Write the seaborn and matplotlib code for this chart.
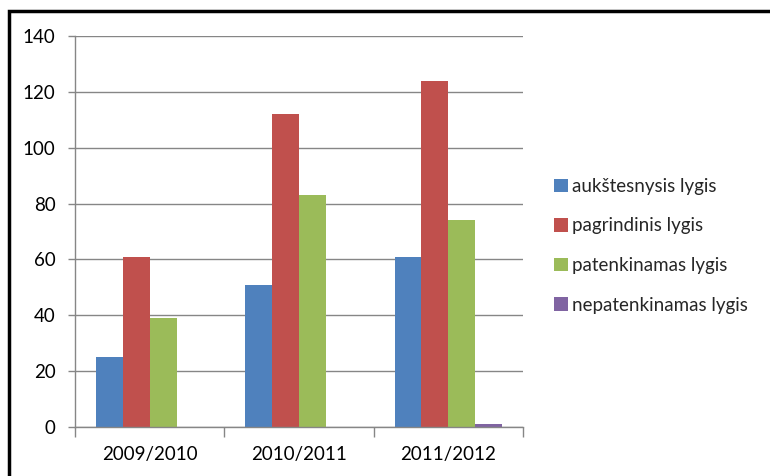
import matplotlib
matplotlib.use("Agg")
import matplotlib.pyplot as plt
import seaborn as sns
import pandas as pd
from matplotlib.patches import Rectangle

years = ["2009/2010", "2010/2011", "2011/2012"]
series = ["aukštesnysis lygis", "pagrindinis lygis", "patenkinamas lygis", "nepatenkinamas lygis"]
aukstesnysis = [25, 51, 61]
pagrindinis = [61, 112, 124]
patenkinamas = [39, 83, 74]
nepatenkinamas = [0, 0, 1]
colors = ["#4F81BD", "#C0504D", "#9BBB59", "#8064A2"]
yticks = [0, 20, 40, 60, 80, 100, 120, 140]

rows = []
for s, vals in zip(series, [aukstesnysis, pagrindinis, patenkinamas, nepatenkinamas]):
    for y, v in zip(years, vals):
        rows.append({"year": y, "series": s, "value": v})
df = pd.DataFrame(rows)

sns.set_theme(style="white")
plt.rcParams['font.family'] = ['Lato', 'DejaVu Sans']

FS = 13.5
fig = plt.figure(figsize=(7.7, 4.76), dpi=100)
ax = fig.add_axes([75/770, 1-427/476, (523-75)/770, (427-36)/476])

sns.barplot(data=df, x="year", y="value", hue="series", palette=colors,
            width=0.72, ax=ax, saturation=1, edgecolor="none", linewidth=0, legend=True)

ax.set_ylim(0, 140)
ax.set_xlim(-0.5, 2.5)
ax.set_yticks(yticks)
ax.set_yticklabels([str(t) for t in yticks], fontsize=FS, color="black")
ax.set_xticks([0, 1, 2])
ax.set_xticklabels(years, fontsize=FS, color="black")
ax.tick_params(axis="x", length=0, pad=14)
ax.tick_params(axis="y", length=5, width=1, color="#868686", direction="out", pad=9, left=True)
ax.set_xlabel("")
ax.set_ylabel("")
ax.grid(axis="y", color="#868686", linewidth=1)
ax.set_axisbelow(True)
for side in ["top", "right"]:
    ax.spines[side].set_visible(False)
ax.spines["left"].set_color("#868686")
ax.spines["bottom"].set_color("#868686")
ax.spines["left"].set_linewidth(1)
ax.spines["bottom"].set_linewidth(1)
# category boundary ticks
ax.set_xticks([-0.5, 0.5, 1.5, 2.5], minor=True)
ax.tick_params(axis="x", which="minor", length=7, width=1, color="#868686", direction="out", bottom=True)

handles, labels = ax.get_legend_handles_labels()
ax.get_legend().remove()
fig.legend(handles, labels, loc="upper left", bbox_to_anchor=(554/770, 1-178/476),
           frameon=False, fontsize=FS, handlelength=0.75, handleheight=0.75,
           handletextpad=0.2, labelspacing=1.2, borderpad=0, borderaxespad=0)

fig.patches.append(Rectangle((9/770, -0.1), 1.2, 1-11/476+0.1, transform=fig.transFigure,
                             fill=False, edgecolor="black", linewidth=2.5, zorder=10))

fig.savefig("out.png", dpi=100)
